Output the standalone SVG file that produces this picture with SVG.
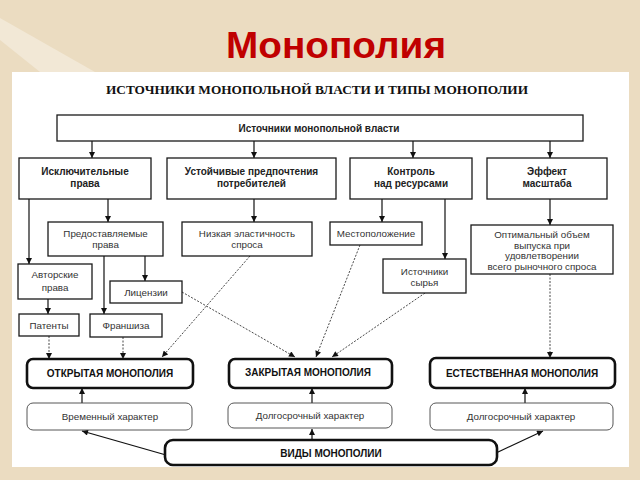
<svg xmlns="http://www.w3.org/2000/svg" width="640" height="480" viewBox="0 0 640 480">
<defs>
<style>
.bx{fill:#fff;stroke:#1a1a1a;stroke-width:1.3}
.mono{fill:#fff;stroke:#111;stroke-width:2.6}
.thin{fill:#fff;stroke:#444;stroke-width:0.9}
.tb{font-family:"Liberation Sans",Arial,sans-serif;font-weight:bold;font-size:10px;fill:#222;text-anchor:middle}
.tr{font-family:"Liberation Sans",Arial,sans-serif;font-size:9.8px;fill:#333;text-anchor:middle}
.tm{font-family:"Liberation Sans",Arial,sans-serif;font-weight:bold;font-size:10px;fill:#111;text-anchor:middle}
.ln{fill:none;stroke:#111;stroke-width:1.2}
.dt{fill:none;stroke:#333;stroke-width:0.9;stroke-dasharray:2 1.5}
</style>
<marker id="ah" viewBox="0 0 10 10" refX="10" refY="5" markerWidth="7" markerHeight="6" markerUnits="userSpaceOnUse" orient="auto"><path d="M0,0 L10,5 L0,10 z" fill="#111"/></marker>
</defs>
<rect x="0" y="0" width="640" height="480" fill="#EBDCC1"/>
<polygon points="0,18 0,40 40,72 95,72" fill="#F2E8D6"/>
<rect x="12" y="72" width="617" height="395" fill="#fff"/>
<text x="336" y="58" font-family="Liberation Sans,Arial,sans-serif" font-weight="bold" font-size="36" fill="#C00000" text-anchor="middle" textLength="220" lengthAdjust="spacingAndGlyphs">Монополия</text>
<text x="317" y="94" font-family="Liberation Serif,'Times New Roman',serif" font-weight="bold" font-size="12" fill="#111" text-anchor="middle" textLength="422" lengthAdjust="spacingAndGlyphs">ИСТОЧНИКИ МОНОПОЛЬНОЙ ВЛАСТИ И ТИПЫ МОНОПОЛИИ</text>

<g id="connectors">
<path class="ln" d="M92,141 V158" marker-end="url(#ah)"/>
<path class="ln" d="M254,141 V158" marker-end="url(#ah)"/>
<path class="ln" d="M413,141 V158" marker-end="url(#ah)"/>
<path class="ln" d="M550,141 V158" marker-end="url(#ah)"/>
<path class="ln" d="M29,199 V264" marker-end="url(#ah)"/>
<path class="ln" d="M108,199 V222" marker-end="url(#ah)"/>
<path class="ln" d="M254,199 V222" marker-end="url(#ah)"/>
<path class="ln" d="M382,199 V222" marker-end="url(#ah)"/>
<path class="ln" d="M445,199 V259" marker-end="url(#ah)"/>
<path class="ln" d="M550,199 V225" marker-end="url(#ah)"/>
<path class="ln" d="M104,256 V314" marker-end="url(#ah)"/>
<path class="ln" d="M145,256 V281" marker-end="url(#ah)"/>
<path class="ln" d="M48,299 V314" marker-end="url(#ah)"/>
<path class="dt" d="M49,336 V359" marker-end="url(#ah)"/>
<path class="dt" d="M123,337 V359" marker-end="url(#ah)"/>
<path class="dt" d="M250,256 L162,357" marker-end="url(#ah)"/>
<path class="dt" d="M182,292 L295,357" marker-end="url(#ah)"/>
<path class="dt" d="M360,245 L316,357" marker-end="url(#ah)"/>
<path class="dt" d="M425,293 L332,357" marker-end="url(#ah)"/>
<path class="dt" d="M550,274 V358" marker-end="url(#ah)"/>
<path class="ln" d="M82,403 V388" marker-end="url(#ah)"/>
<path class="ln" d="M312,403 V388" marker-end="url(#ah)"/>
<path class="ln" d="M525,403 V388" marker-end="url(#ah)"/>
<path class="ln" d="M166,455 L82,431" marker-end="url(#ah)"/>
<path class="ln" d="M312,440 V429" marker-end="url(#ah)"/>
<path class="ln" d="M496,453 L543,431" marker-end="url(#ah)"/>
</g>

<g id="n-top"><rect class="bx" x="57" y="115" width="526" height="26"/><text class="tb" x="319" y="131.5">Источники монопольной власти</text></g>
<g id="n-excl"><rect class="bx" x="19" y="158" width="132" height="41"/><text class="tb" x="85" y="175">Исключительные</text><text class="tb" x="85" y="187">права</text></g>
<g id="n-pref"><rect class="bx" x="167" y="158" width="169" height="41"/><text class="tb" x="251.5" y="175">Устойчивые предпочтения</text><text class="tb" x="251.5" y="187">потребителей</text></g>
<g id="n-ctrl"><rect class="bx" x="350" y="158" width="122" height="41"/><text class="tb" x="411" y="175">Контроль</text><text class="tb" x="411" y="187">над ресурсами</text></g>
<g id="n-scale"><rect class="bx" x="487" y="158" width="120" height="41"/><text class="tb" x="547" y="175">Эффект</text><text class="tb" x="547" y="187">масштаба</text></g>

<g id="n-granted"><rect class="bx" x="48" y="222" width="115" height="34"/><text class="tr" x="105.5" y="237">Предоставляемые</text><text class="tr" x="105.5" y="247.5">права</text></g>
<g id="n-elast"><rect class="bx" x="182" y="222" width="130" height="34"/><text class="tr" x="247" y="237">Низкая эластичность</text><text class="tr" x="247" y="247.5">спроса</text></g>
<g id="n-loc"><rect class="bx" x="330" y="222" width="92" height="23"/><text class="tr" x="376" y="237">Местоположение</text></g>
<g id="n-opt"><rect class="bx" x="471" y="225" width="142" height="49"/><text class="tr" x="542" y="238">Оптимальный объем</text><text class="tr" x="542" y="248.5">выпуска при</text><text class="tr" x="542" y="259">удовлетворении</text><text class="tr" x="542" y="269.5">всего рыночного спроса</text></g>
<g id="n-copy"><rect class="bx" x="18" y="264" width="74" height="35"/><text class="tr" x="55" y="278">Авторские</text><text class="tr" x="55" y="291">права</text></g>
<g id="n-lic"><rect class="bx" x="110" y="281" width="72" height="22"/><text class="tr" x="146" y="295.5">Лицензии</text></g>
<g id="n-raw"><rect class="bx" x="383" y="259" width="83" height="34"/><text class="tr" x="424.5" y="275">Источники</text><text class="tr" x="424.5" y="286">сырья</text></g>
<g id="n-pat"><rect class="bx" x="19" y="314" width="60" height="22"/><text class="tr" x="49" y="328.5">Патенты</text></g>
<g id="n-fran"><rect class="bx" x="90" y="314" width="72" height="23"/><text class="tr" x="126" y="329">Франшиза</text></g>

<g id="n-open"><rect class="mono" x="27" y="359" width="166" height="29" rx="6"/><text class="tm" x="110" y="377">ОТКРЫТАЯ МОНОПОЛИЯ</text></g>
<g id="n-closed"><rect class="mono" x="229" y="359" width="163" height="29" rx="6"/><text class="tm" x="308" y="376">ЗАКРЫТАЯ МОНОПОЛИЯ</text></g>
<g id="n-natural"><rect class="mono" x="430" y="358" width="185" height="30" rx="6"/><text class="tm" x="522" y="376.5">ЕСТЕСТВЕННАЯ МОНОПОЛИЯ</text></g>
<g id="n-temp"><rect class="thin" x="27" y="403" width="165" height="27" rx="6"/><text class="tr" x="110" y="420">Временный характер</text></g>
<g id="n-long1"><rect class="thin" x="228" y="403" width="164" height="25" rx="6"/><text class="tr" x="310" y="418.5">Долгосрочный характер</text></g>
<g id="n-long2"><rect class="thin" x="430" y="403" width="183" height="27" rx="6"/><text class="tr" x="521" y="420">Долгосрочный характер</text></g>
<g id="n-types"><rect class="mono" x="165" y="440" width="332" height="25" rx="8"/><text class="tm" x="331" y="457">ВИДЫ МОНОПОЛИИ</text></g>
</svg>
